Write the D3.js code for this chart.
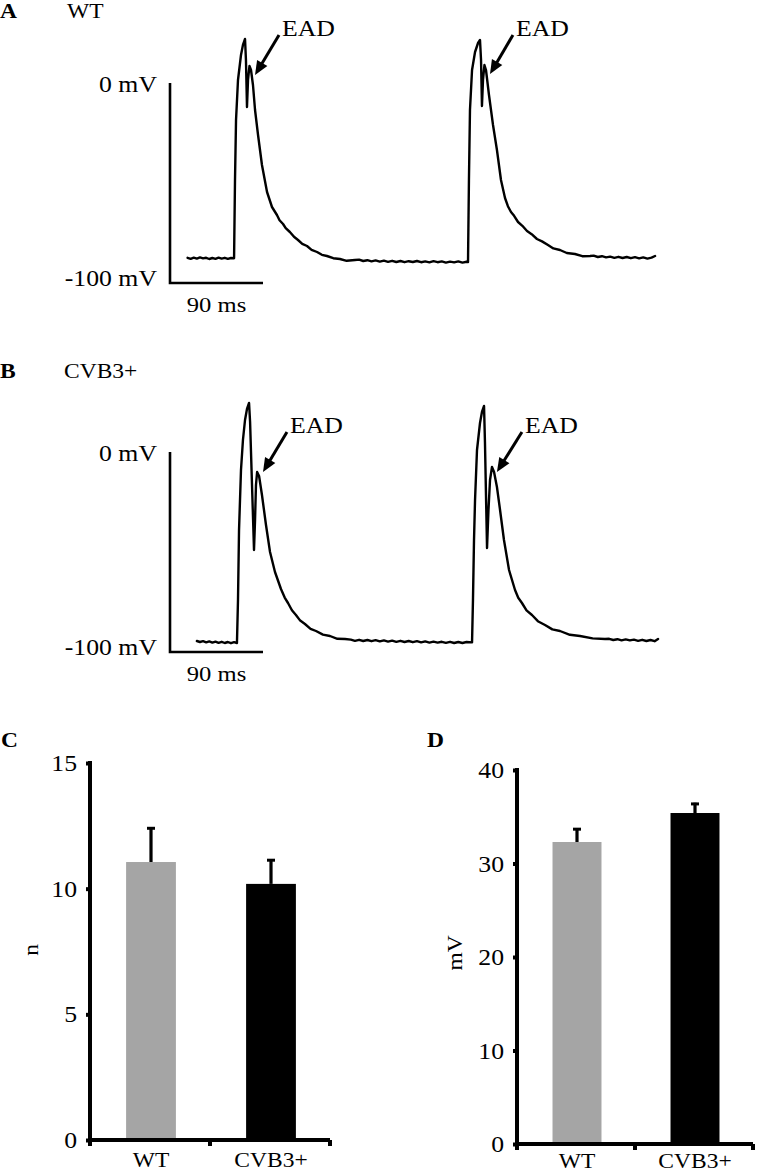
<!DOCTYPE html>
<html>
<head>
<meta charset="utf-8">
<script src="https://cdn.jsdelivr.net/npm/d3@7"></script>
<style>
html,body{margin:0;padding:0;background:#fff;}
svg{display:block;}
text{font-family:"Liberation Serif","Times New Roman",Times,serif;fill:#000;}
</style>
</head>
<body>
<svg id="chart" width="757" height="1174"></svg>
<script>
// ---------- DATA ----------
// Action potential traces: [time (ms), membrane potential (mV)]
const traceWT = [
  [17,-87.4],[20,-87.9],[23,-87.3],[26,-87.8],[29,-87.2],[32,-87.7],[35,-87.4],[38,-88.0],[41,-87.5],[44,-87.9],[47,-87.3],[50,-87.8],[53,-87.4],[56,-87.9],[59,-87.5],[62,-87.6],
  [62.9,-48.5],[63.9,-18.5],[65.8,1.5],[68.7,14],[70.6,19],[72.6,22],[73.5,11.5],[74.5,-12],[75.5,1.5],[76.9,8.5],[78.4,6.5],[80.3,-1],[82.3,-13.5],[85.2,-26],[89,-41],[93.9,-54.5],[98.7,-62],[103.5,-66],[106,-68.6],[109.4,-70.5],[112,-72.6],[116,-74.5],[120,-76.9],[123.9,-78.5],[128,-80.4],[132.6,-81.5],[137,-83.4],[142.3,-84.5],[147,-85.9],[151.9,-86.5],[158,-87.6],[164.5,-88],[171,-88.9],[179,-88.5],
  [183,-88.3],[187,-89.0],[191,-88.6],[195,-89.2],[199,-88.7],[203,-89.3],[207,-88.8],[211,-89.4],[215,-88.9],[219,-89.5],[223,-89.0],[227,-89.6],[231,-89.1],[235,-89.5],[239,-89.0],[243,-89.6],[247,-89.2],[251,-89.7],[255,-89.1],[259,-89.6],[263,-89.2],[267,-89.8],[271,-89.3],[275,-89.7],[279,-89.2],[283,-89.8],[287,-89.4],[288.4,-89.5],
  [289.3,-48.5],[290.3,-13.5],[292.3,6.5],[295.2,15.5],[298.1,20],[300,21.5],[301,11.5],[301.9,-11.5],[302.9,1.5],[304.3,9],[305.8,6.5],[308.7,-6],[312.6,-21],[316.4,-33.5],[320.3,-48.5],[324.2,-57.5],[327,-61.6],[330,-64.5],[333,-66.4],[336.8,-69.5],[341,-71.4],[345.5,-74],[350,-75.6],[355.1,-78],[360,-79.2],[365.8,-81],[371,-82.7],[377.4,-83.5],[384,-85.0],[391.9,-85.5],[399,-86.6],[406.5,-86.5],
  [410,-86.3],[414,-87.0],[418,-86.6],[422,-87.2],[426,-86.8],[430,-87.4],[434,-86.9],[438,-87.5],[442,-87.0],[446,-87.6],[450,-87.1],[454,-87.7],[458,-87.2],[462,-87.8],[466,-87.3],[469.4,-86.5]
];
const traceCVB3 = [
  [26,-94.5],[29,-95.0],[32,-94.6],[35,-95.2],[38,-94.7],[41,-95.3],[44,-94.8],[47,-95.4],[50,-94.9],[53,-95.5],[56,-95.0],[59,-95.6],[62,-95.1],[64.8,-95.5],
  [65.8,-74],[66.8,-39],[68.7,-9],[70.6,6],[72.6,16],[74.5,21.5],[76.5,24.5],[77.5,15],[81.3,-49],[82.3,-34],[83.2,-16.5],[84.3,-10],[86.2,-12],[89,-21.5],[92.9,-36.5],[96.8,-50],[101.6,-60],[107.4,-68.5],[111,-72.8],[114.2,-75.5],[118,-79.1],[121.9,-81.5],[126,-84.3],[130.6,-86],[136,-88.4],[141.3,-89.5],[148,-91.3],[154.8,-92],[162,-93.4],[169.4,-93.5],
  [175,-93.8],[179,-94.4],[183,-93.9],[187,-94.5],[191,-94.0],[195,-94.6],[199,-94.1],[203,-94.7],[207,-94.2],[211,-94.8],[215,-94.3],[219,-94.9],[223,-94.4],[227,-95.0],[231,-94.5],[235,-95.1],[239,-94.6],[243,-95.2],[247,-94.7],[251,-95.3],[255,-94.8],[259,-95.3],[263,-94.9],[267,-95.4],[271,-94.9],[275,-95.5],[279,-95.0],[283,-95.5],[287,-95.0],[292.3,-95.2],
  [293.2,-74],[294.2,-44],[295.2,-24],[297.1,1],[300,14.5],[301.9,20],[303.9,23],[304.8,5],[306.8,-48],[308.2,-29],[309.7,-14],[311.6,-7.5],[313.6,-10],[316.4,-17.5],[319.4,-29],[323.2,-44],[328.1,-59],[333.9,-69],[337,-72.9],[340.6,-75.5],[345,-79.2],[350.3,-81.5],[356,-84.6],[362.9,-86.5],[370,-88.7],[377.4,-89.5],[387,-91.4],[396.8,-92],[409,-93.2],[421,-93.5],
  [425,-93.4],[429,-94.0],[433,-93.6],[437,-94.2],[441,-93.7],[445,-94.2],[449,-93.8],[453,-94.4],[457,-93.9],[461,-94.5],[465,-94.0],[469,-94.6],[472.3,-93.5]
];
// EAD arrow annotations: [tailTime, tailMV, tipTime, tipMV]
const eadArrowsWT = [[105.5,24,82.3,4],[331.9,24,309.7,4.5]];
const eadArrowsCVB3 = [[113.2,10,90,-10],[340.6,10,316.4,-10]];
// Scale bars
const scaleBarTime = 90;          // ms
const scaleBarVolt = [-100, 0];   // mV
const scaleBarLabels = ["0 mV", "-100 mV", "90 ms"];

// Bar charts
const categories = ["WT", "CVB3+"];
const eadCountMean = [11.06, 10.19];
const eadCountSEM  = [1.39, 0.99];
const eadAmpMean   = [32.3, 35.4];
const eadAmpSEM    = [1.5, 1.1];
const countTicks = [0, 5, 10, 15];
const ampTicks   = [0, 10, 20, 30, 40];
const barColors  = ["#a5a5a5", "#000000"];

// ---------- DRAW ----------
const svg = d3.select("#chart");
const SX = 1.12; // horizontal text stretch of the original figure

function txt(g, x, y, s, size, anchor, weight) {
  return g.append("text")
    .attr("transform", `translate(${x},${y}) scale(${SX},1)`)
    .attr("font-size", size)
    .attr("text-anchor", anchor || "start")
    .attr("font-weight", weight || "normal")
    .text(s);
}

function tracePanel(cfg) {
  const g = svg.append("g");
  const x = d3.scaleLinear().domain([0, scaleBarTime]).range([170, 263]);
  const y = d3.scaleLinear().domain(scaleBarVolt).range([cfg.y0 + 200, cfg.y0]);
  // scale bars
  g.append("path")
    .attr("d", `M${x(0)},${y(scaleBarVolt[1])}V${y(scaleBarVolt[0])}H${x(scaleBarTime)}`)
    .attr("fill", "none").attr("stroke", "#000").attr("stroke-width", 2.6);
  txt(g, 157, y(0) + 9, scaleBarLabels[0], 23, "end");
  txt(g, 157, y(-100) + 3, scaleBarLabels[1], 23, "end");
  txt(g, (x(0) + x(scaleBarTime)) / 2, y(-100) + 29, scaleBarLabels[2], 22, "middle");
  // trace
  const line = d3.line().x(d => x(d[0])).y(d => y(d[1])).curve(d3.curveLinear);
  g.append("path").datum(cfg.trace).attr("d", line)
    .attr("fill", "none").attr("stroke", "#000").attr("stroke-width", 2.4)
    .attr("stroke-linejoin", "round").attr("stroke-linecap", "round");
  // arrows
  cfg.arrows.forEach(a => {
    const x1 = x(a[0]), y1 = y(a[1]), x2 = x(a[2]), y2 = y(a[3]);
    const dx = x2 - x1, dy = y2 - y1, L = Math.hypot(dx, dy);
    const ux = dx / L, uy = dy / L, hl = 14, hw = 6;
    const bx = x2 - ux * hl, by = y2 - uy * hl;
    g.append("line").attr("x1", x1).attr("y1", y1).attr("x2", bx + ux * 2).attr("y2", by + uy * 2)
      .attr("stroke", "#000").attr("stroke-width", 3);
    g.append("path")
      .attr("d", `M${x2},${y2}L${bx - uy * hw},${by + ux * hw}L${bx + uy * hw},${by - ux * hw}Z`)
      .attr("fill", "#000");
    txt(g, x1 + 3, y1 + 1, "EAD", 23, "start");
  });
  txt(g, 0, cfg.y0 - 65 + cfg.labOff, cfg.letter, 21, "start", "bold");
  txt(g, cfg.titleX, cfg.y0 - 65 + cfg.labOff, cfg.title, 21, "start");
}

tracePanel({ y0: 83, trace: traceWT, arrows: eadArrowsWT, letter: "A", title: "WT", titleX: 67, labOff: 0 });
tracePanel({ y0: 452, trace: traceCVB3, arrows: eadArrowsCVB3, letter: "B", title: "CVB3+", titleX: 64, labOff: -9 });

function barPanel(cfg) {
  const g = svg.append("g");
  const x = d3.scaleBand().domain(categories).range([cfg.x0, cfg.x1]).padding(0);
  const y = d3.scaleLinear().domain([0, cfg.ticks[cfg.ticks.length - 1]]).range([cfg.yb, cfg.yt]);
  const bw = x.bandwidth() * 0.415;
  const cx = c => x(c) + x.bandwidth() / 2 + 1;
  // bars
  g.selectAll("rect.bar").data(categories).enter().append("rect")
    .attr("x", c => cx(c) - bw / 2)
    .attr("y", (c, i) => y(cfg.mean[i]))
    .attr("width", bw)
    .attr("height", (c, i) => y(0) - y(cfg.mean[i]))
    .attr("fill", (c, i) => barColors[i]);
  // error bars
  categories.forEach((c, i) => {
    const top = y(cfg.mean[i] + cfg.sem[i]);
    g.append("line").attr("x1", cx(c)).attr("x2", cx(c)).attr("y1", y(cfg.mean[i])).attr("y2", top)
      .attr("stroke", "#000").attr("stroke-width", 3.2);
    g.append("line").attr("x1", cx(c) - 4).attr("x2", cx(c) + 4).attr("y1", top + 1.2).attr("y2", top + 1.2)
      .attr("stroke", "#000").attr("stroke-width", 3);
  });
  // y axis
  const ya = g.append("g").attr("transform", `translate(${cfg.x0},0)`)
    .call(d3.axisLeft(y).tickValues(cfg.ticks).tickSize(4).tickPadding(10).tickFormat(d3.format("d")));
  ya.select(".domain").attr("stroke-width", 4).attr("d", `M0,${cfg.yt - 2}V${cfg.yb}`);
  ya.selectAll(".tick line").attr("stroke-width", 4);
  ya.selectAll(".tick text").remove();
  cfg.ticks.forEach(t => txt(g, cfg.x0 - 13, y(t) + 8, String(t), 23, "end"));
  // x axis
  const xa = g.append("g").attr("transform", `translate(0,${cfg.yb})`)
    .call(d3.axisBottom(x).tickSize(0).tickFormat(""));
  xa.select(".domain").attr("stroke-width", 4).attr("d", `M${cfg.x0},0H${cfg.x1}`);
  [cfg.x0, (cfg.x0 + cfg.x1) / 2, cfg.x1].forEach(px => {
    g.append("line").attr("x1", px).attr("x2", px).attr("y1", cfg.yb).attr("y2", cfg.yb + 6)
      .attr("stroke", "#000").attr("stroke-width", 4);
  });
  categories.forEach(c => txt(g, cx(c), cfg.xlabY, c, 21, "middle"));
  // y label
  g.append("text")
    .attr("transform", `translate(${cfg.ylx},${cfg.yly}) rotate(-90) scale(${SX},1)`)
    .attr("font-size", 21).attr("text-anchor", "middle").text(cfg.ylabel);
  txt(g, cfg.letterX, 747, cfg.letter, 21, "start", "bold");
}

barPanel({ x0: 90, x1: 330, yt: 763, yb: 1140, ticks: countTicks, mean: eadCountMean, sem: eadCountSEM,
  ylabel: "n", ylx: 38, yly: 950, letter: "C", letterX: 1, xlabY: 1167 });
barPanel({ x0: 517, x1: 753, yt: 770, yb: 1144, ticks: ampTicks, mean: eadAmpMean, sem: eadAmpSEM,
  ylabel: "mV", ylx: 462, yly: 953, letter: "D", letterX: 427, xlabY: 1168 });
</script>
</body>
</html>
